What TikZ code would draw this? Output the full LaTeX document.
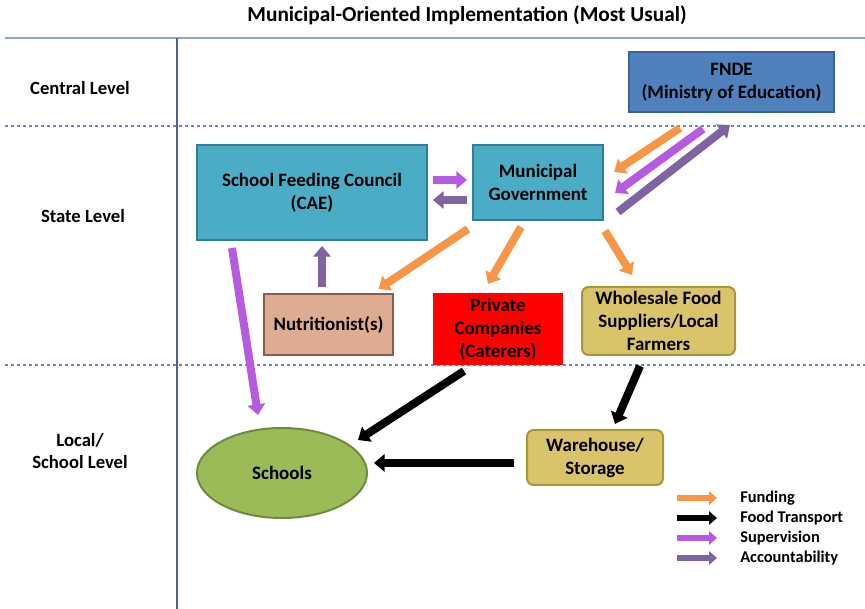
\documentclass[tikz,border=0pt]{standalone}
\usepackage{fontspec}
\setmainfont{Carlito}
\usetikzlibrary{arrows.meta,shapes.geometric}
\definecolor{fndefill}{HTML}{4F81BD}
\definecolor{fndedraw}{HTML}{3A6396}
\definecolor{tealfill}{HTML}{4BACC6}
\definecolor{tealdraw}{HTML}{357E92}
\definecolor{nutfill}{HTML}{DEAC92}
\definecolor{nutdraw}{HTML}{8C5B4E}
\definecolor{goldfill}{HTML}{D9C36B}
\definecolor{golddraw}{HTML}{A8963A}
\definecolor{grnfill}{HTML}{9BBB59}
\definecolor{grndraw}{HTML}{71893F}
\definecolor{fundc}{HTML}{F79646}
\definecolor{superc}{HTML}{B65AE0}
\definecolor{acctc}{HTML}{8064A2}
\definecolor{linec}{HTML}{8EA5C4}
\definecolor{vlinec}{HTML}{4A6591}
\definecolor{dashc}{HTML}{6B86B0}
\tikzset{
  box/.style={rectangle, font=\bfseries\fontsize{14.2}{17.2}\selectfont, align=center, inner sep=0pt, line width=1.5pt},
  blk/.style={line width=6pt, -{Triangle[length=8pt,width=13pt]}},
  legblk/.style={line width=5pt, -{Triangle[length=6pt,width=10pt]}},
  fund/.style={fundc},
  food/.style={black},
  sup/.style={superc},
  acc/.style={acctc},
  lvl/.style={font=\bfseries\fontsize{14}{16.5}\selectfont, align=center},
  legtxt/.style={font=\bfseries\fontsize{12.3}{14}\selectfont, anchor=west, inner sep=0pt}
}
\begin{document}
\begin{tikzpicture}[x=0.75pt,y=-0.75pt]
\useasboundingbox (0,0) rectangle (865,609);
% frame lines
\draw[linec, line width=1.5pt] (5,38) -- (865,38);
\draw[vlinec, line width=0.8pt] (177,38) -- (177,609);
\draw[dashc, line width=0.8pt, dash pattern=on 2.5pt off 2pt] (5,126) -- (865,126);
\draw[dashc, line width=0.8pt, dash pattern=on 2.5pt off 2pt] (5,365) -- (865,365);
% title and levels
\node[font=\bfseries\fontsize{16}{19}\selectfont] (title) at (467,15) {Municipal-Oriented Implementation (Most Usual)};
\node[lvl] (central) at (80,88) {Central Level};
\node[lvl] (state) at (83,216) {State Level};
\node[lvl] (local) at (80,451) {Local/\\School Level};
% nodes
\node[box, fill=fndefill, draw=fndedraw, minimum width=205*0.75pt, minimum height=60*0.75pt] (fnde) at (731.5,82) {FNDE\\(Ministry of Education)};
\node[box, fill=tealfill, draw=tealdraw, minimum width=230*0.75pt, minimum height=95*0.75pt] (cae) at (312,192.5) {School Feeding Council\\(CAE)};
\node[box, fill=tealfill, draw=tealdraw, minimum width=130*0.75pt, minimum height=75*0.75pt] (muni) at (538,182.5) {Municipal\\Government};
\node[box, fill=nutfill, draw=nutdraw, minimum width=129*0.75pt, minimum height=61*0.75pt] (nutri) at (328.5,324.5) {Nutritionist(s)};
\node[box, fill=red, minimum width=130*0.75pt, minimum height=72*0.75pt] (priv) at (498,329) {Private\\Companies\\(Caterers)};
\node[box, fill=goldfill, draw=golddraw, rounded corners=5pt, minimum width=153*0.75pt, minimum height=68*0.75pt] (whole) at (658.5,321) {Wholesale Food\\Suppliers/Local\\Farmers};
\node[box, fill=goldfill, draw=golddraw, rounded corners=5pt, minimum width=136*0.75pt, minimum height=55*0.75pt] (ware) at (595,457.5) {Warehouse/\\Storage};
\node[box, ellipse, fill=grnfill, draw=grndraw, minimum width=170*0.75pt, minimum height=90*0.75pt] (schools) at (282,473) {Schools};
% connectors
\draw[blk,fund] ([shift={(-51.5,15)}]fnde.south) -- ([shift={(10,-10.5)}]muni.east);
\draw[blk,sup] ([shift={(-28.5,16)}]fnde.south) -- ([shift={(11,10.5)}]muni.east);
\draw[blk,acc] ([shift={(14,29.5)}]muni.east) -- ([shift={(-1.5,12)}]fnde.south);
\draw[blk,sup] ([shift={(5,-12.5)}]cae.east) -- ([shift={(-5,-2.5)}]muni.west);
\draw[blk,acc] ([shift={(-5,17.5)}]muni.west) -- ([shift={(5,7.5)}]cae.east);
\draw[blk,acc] ([shift={(-6.5,-6)}]nutri.north) -- ([shift={(10,5)}]cae.south);
\draw[blk,fund] ([shift={(-70,8)}]muni.south) -- ([shift={(50,-4)}]nutri.north);
\draw[blk,fund] ([shift={(-17,6)}]muni.south) -- ([shift={(-10,-8)}]priv.north);
\draw[blk,fund] ([shift={(67,10)}]muni.south) -- ([shift={(-26.5,-11)}]whole.north);
\draw[blk,sup] ([shift={(-80,7)}]cae.south) -- ([shift={(-24,-12)}]schools.north);
\draw[blk,food] ([shift={(-34,5)}]priv.south) -- ([shift={(-10,-33)}]schools.east);
\draw[blk,food] ([shift={(-18.5,10)}]whole.south) -- ([shift={(20,-5)}]ware.north);
\draw[blk,food] ([shift={(-12,5.5)}]ware.west) -- ([shift={(6,-10)}]schools.east);
% legend
\node[legtxt] (lf) at (740,498) {Funding};
\node[legtxt] (lt) at (740,518) {Food Transport};
\node[legtxt] (ls) at (740,538) {Supervision};
\node[legtxt] (la) at (740,558) {Accountability};
\draw[legblk,fund] ([xshift=-63*0.75pt]lf.west) -- ([xshift=-23*0.75pt]lf.west);
\draw[legblk,food] ([xshift=-63*0.75pt]lt.west) -- ([xshift=-23*0.75pt]lt.west);
\draw[legblk,sup] ([xshift=-63*0.75pt]ls.west) -- ([xshift=-23*0.75pt]ls.west);
\draw[legblk,acc] ([xshift=-63*0.75pt]la.west) -- ([xshift=-23*0.75pt]la.west);
\end{tikzpicture}
\end{document}
